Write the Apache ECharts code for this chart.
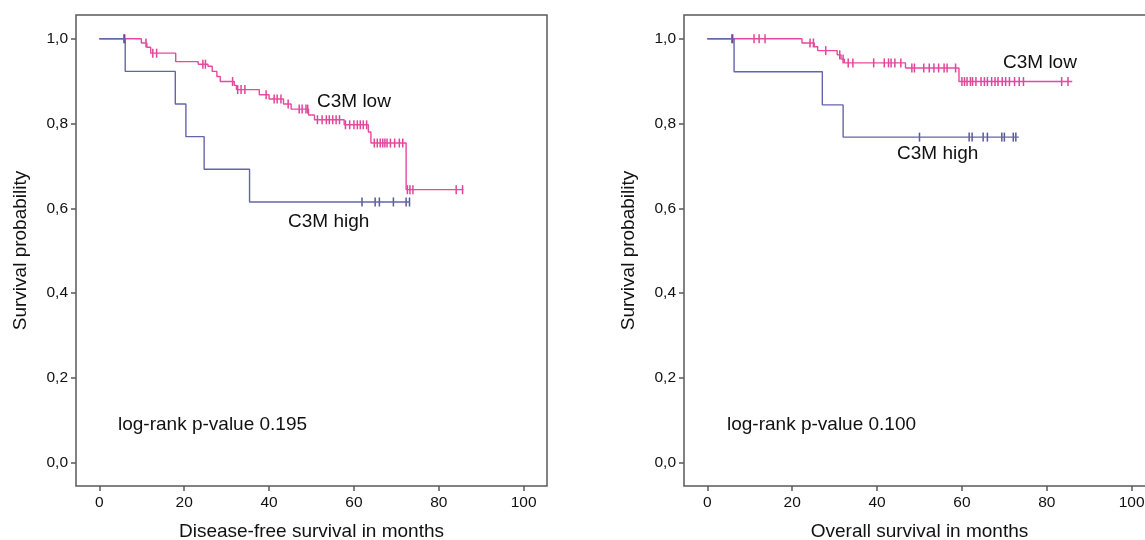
<!DOCTYPE html>
<html>
<head>
<meta charset="utf-8">
<script src="https://cdn.jsdelivr.net/npm/echarts@6/dist/echarts.min.js"></script>
<style>
  html, body { margin: 0; padding: 0; background: #fff; }
  #chart { width: 1145px; height: 540px; }
</style>
</head>
<body>
<div id="chart"></div>
<script>
// tick labels
const xTicks = [0, 20, 40, 60, 80, 100]
const yTicks = [0, 0.2, 0.4, 0.6, 0.8, 1.0]

// disease-free survival, [months, survival after event]
const dfsHighSteps = [[0, 1], [6.1, 0.923], [17.9, 0.846], [20.4, 0.769], [24.7, 0.692], [35.4, 0.615]]
const dfsHighEnd = 73.2
const dfsHighCensor = [5.8, 61.9, 65, 66, 69.3, 72.3, 73.1]

const dfsLowSteps = [[0, 1], [9.9, 0.99], [11.2, 0.98], [12.1, 0.966], [18.0, 0.946], [23.3, 0.94],
  [25.6, 0.935], [26.6, 0.923], [27.7, 0.911], [28.5, 0.899], [31.8, 0.89], [32.3, 0.88],
  [37.7, 0.868], [40.0, 0.858], [43.4, 0.846], [45.2, 0.834], [49.3, 0.82], [50.7, 0.809],
  [57.7, 0.797], [63.4, 0.78], [64.0, 0.754], [72.3, 0.644]]
const dfsLowEnd = 85.8
const dfsLowCensor = [6, 11, 12.6, 13.5, 24.4, 25, 31.4, 32.6, 33.4, 34.3, 39.3, 41.2, 41.9, 42.8,
  44.5, 47.1, 47.8, 48.7, 49.1, 51.4, 52.5, 53.5, 54.2, 55, 55.8, 56.6, 58, 59, 60, 60.8, 61.5,
  62.2, 63, 64.8, 65.5, 66.2, 66.8, 67.3, 67.8, 68.6, 69.6, 70.7, 71.5, 72.6, 73.2, 73.9, 84.1, 85.6]

// overall survival
const osHighSteps = [[0, 1], [6.3, 0.922], [27.1, 0.844], [32.0, 0.768]]
const osHighEnd = 73.4
const osHighCensor = [5.8, 50, 61.7, 62.4, 65, 66, 69.4, 70, 72.1, 72.7]

const osLowSteps = [[0, 1], [22.3, 0.99], [25.2, 0.981], [26.0, 0.972], [30.6, 0.962],
  [31.5, 0.952], [32.3, 0.943], [46.7, 0.931], [59.3, 0.899]]
const osLowEnd = 86
const osLowCensor = [6, 11, 12.2, 13.6, 24.2, 25, 27.9, 31.2, 32, 33.2, 34.3, 39.2, 41.7, 42.7,
  43.3, 44.2, 45.6, 48.2, 48.8, 51, 52.3, 53.4, 54.5, 55.8, 56.5, 58.5, 60, 60.6, 61.2, 62, 62.5,
  63.3, 64.5, 65.3, 66, 67, 67.8, 68.5, 69.5, 70.3, 71.2, 72.4, 73.5, 74.5, 83.5, 85]

const FONT = 'Liberation Sans, Arial, sans-serif'
const FRAME = '#5a5a5a'
const BLUE = '#6464ac', BLUE_MARK = '#303078'
const PINK = '#e6499f', PINK_MARK = '#d8157f'

function survAt (steps, t) {
  let v = steps[0][1]
  steps.forEach(function (s) { if (s[0] <= t) v = s[1] })
  return v
}

function curve (steps, end, idx, color) {
  return {
    type: 'line', xAxisIndex: idx, yAxisIndex: idx, step: 'end', symbol: 'none',
    data: steps.concat([[end, steps[steps.length - 1][1]]]),
    lineStyle: { color: color, width: 1.4 }, silent: true
  }
}

function censor (steps, times, idx, color) {
  return {
    type: 'scatter', xAxisIndex: idx, yAxisIndex: idx, symbol: 'rect', symbolSize: [1.5, 9],
    data: times.map(function (t) { return [t, survAt(steps, t)] }),
    itemStyle: { color: color }, silent: true
  }
}

function xAxis (idx, name) {
  return {
    type: 'value', gridIndex: idx, min: -5.5, max: 105.5,
    name: name, nameLocation: 'middle', nameGap: 36,
    nameTextStyle: { fontFamily: FONT, fontSize: 19, color: '#111' },
    axisLine: { show: false, onZero: false }, splitLine: { show: false },
    axisTick: { show: true, length: 5, customValues: xTicks, lineStyle: { color: FRAME, width: 1.5 } },
    axisLabel: { customValues: xTicks, margin: 9, fontFamily: FONT, fontSize: 15.5, color: '#111' }
  }
}

function yAxis (idx) {
  return {
    type: 'value', gridIndex: idx, min: -0.055, max: 1.056,
    name: 'Survival probability', nameLocation: 'middle', nameGap: 46,
    nameTextStyle: { fontFamily: FONT, fontSize: 19, color: '#111' },
    axisLine: { show: false, onZero: false }, splitLine: { show: false },
    axisTick: { show: true, length: 5, customValues: yTicks, lineStyle: { color: FRAME, width: 1.5 } },
    axisLabel: {
      customValues: yTicks, margin: 8, fontFamily: FONT, fontSize: 15.5, color: '#111',
      formatter: function (v) { return v.toFixed(1).replace('.', ',') }
    }
  }
}

function note (text, x, y) {
  return {
    type: 'text', left: x, top: y,
    style: { text: text, font: '19px ' + FONT, fill: '#111', textVerticalAlign: 'middle' }
  }
}

const chart = echarts.init(document.getElementById('chart'))
chart.setOption({
  animation: false,
  backgroundColor: '#fff',
  grid: [
    { left: 76, top: 15, width: 471, height: 471, show: true, borderColor: FRAME, borderWidth: 1.5, outerBoundsMode: 'none', containLabel: false },
    { left: 684, top: 15, width: 471, height: 471, show: true, borderColor: FRAME, borderWidth: 1.5, outerBoundsMode: 'none', containLabel: false }
  ],
  xAxis: [xAxis(0, 'Disease-free survival in months'), xAxis(1, 'Overall survival in months')],
  yAxis: [yAxis(0), yAxis(1)],
  graphic: [
    note('log-rank p-value 0.195', 118, 415),
    note('C3M low', 317, 92),
    note('C3M high', 288, 212),
    note('log-rank p-value 0.100', 727, 415),
    note('C3M low', 1003, 53),
    note('C3M high', 897, 144)
  ],
  series: [
    curve(dfsLowSteps, dfsLowEnd, 0, PINK),
    censor(dfsLowSteps, dfsLowCensor, 0, PINK_MARK),
    curve(dfsHighSteps, dfsHighEnd, 0, BLUE),
    censor(dfsHighSteps, dfsHighCensor, 0, BLUE_MARK),
    curve(osLowSteps, osLowEnd, 1, PINK),
    censor(osLowSteps, osLowCensor, 1, PINK_MARK),
    curve(osHighSteps, osHighEnd, 1, BLUE),
    censor(osHighSteps, osHighCensor, 1, BLUE_MARK)
  ]
})
</script>
</body>
</html>
